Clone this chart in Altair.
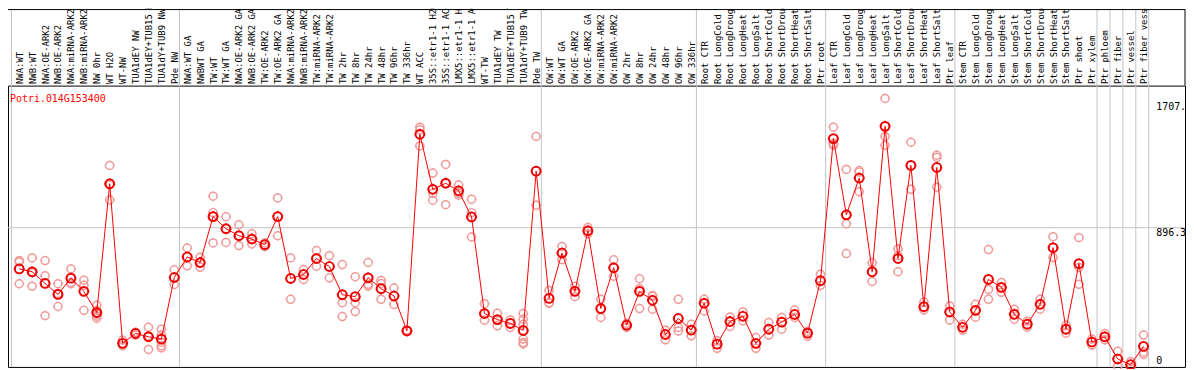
import json
import altair as alt
import pandas as pd

gene = "Potri.014G153400"

categories = [
    "NWA:WT", "NWB:WT", "NWA:OE-ARK2", "NWB:OE-ARK2", "NWA:miRNA-ARK2", "NWB:miRNA-ARK2",
    "NW 0hr", "WT H2O", "WT-NW", "TUA1dEY NW", "TUA1dEY+TUB15 NW", "TUA1dY+TUB9 NW", "Pde NW",
    "NWA:WT GA", "NWBWT GA", "TW:WT", "TW:WT GA", "NWA:OE-ARK2 GA", "NWB:OE-ARK2 GA",
    "TW:OE-ARK2", "TW:OE-ARK2 GA", "NWA:miRNA-ARK2", "NWB:miRNA-ARK2", "TW:miRNA-ARK2",
    "TW:miRNA-ARK2", "TW 2hr", "TW 8hr", "TW 24hr", "TW 48hr", "TW 96hr", "TW 336hr",
    "WT ACC", "35S::etr1-1 H2O", "35S::etr1-1 ACC", "LMX5::etr1-1 H2O", "LMX5::etr1-1 ACC",
    "WT-TW", "TUA1dEY TW", "TUA1dEY+TUB15 TW", "TUA1dY+TUB9 TW", "Pde TW",
    "OW:WT", "OW:WT GA", "OW:OE-ARK2", "OW:OE-ARK2 GA", "OW:miRNA-ARK2", "OW:miRNA-ARK2",
    "OW 2hr", "OW 8hr", "OW 24hr", "OW 48hr", "OW 96hr", "OW 336hr",
    "Root CTR", "Root LongCold", "Root LongDrought", "Root LongHeat", "Root LongSalt",
    "Root ShortCold", "Root ShortDrought", "Root ShortHeat", "Root ShortSalt", "Ptr root",
    "Leaf CTR", "Leaf LongCold", "Leaf LongDrought", "Leaf LongHeat", "Leaf LongSalt",
    "Leaf ShortCold", "Leaf ShortDrought", "Leaf ShortHeat", "Leaf ShortSalt", "Ptr leaf",
    "Stem CTR", "Stem LongCold", "Stem LongDrought", "Stem LongHeat", "Stem LongSalt",
    "Stem ShortCold", "Stem ShortDrought", "Stem ShortHeat", "Stem ShortSalt", "Ptr shoot",
    "Ptr xylem", "Ptr phloem", "Ptr fiber", "Ptr vessel", "Ptr fiber vessel",
]

means = [
    638, 620, 547, 478, 580, 497, 364, 1172, 171, 233, 212, 198, 584,
    713, 678, 966, 890, 846, 825, 790, 966, 578, 603, 703, 653, 476, 464, 582, 514, 468, 249,
    1482, 1137, 1175, 1128, 964, 358, 320, 296, 252, 1251,
    453, 738, 497, 877, 389, 645, 285, 497, 441, 227, 327, 254,
    422, 166, 308, 341, 171, 260, 304, 352, 235, 564,
    1455, 977, 1208, 620, 1532, 703, 1287, 401, 1274, 368,
    272, 378, 572, 522, 353, 291, 416, 771, 260, 671, 179,
    212, 73, 37, 152,
]

replicates = [
    [690, 682, 545], [707, 614, 530], [690, 595, 345], [545, 484, 402], [638, 553, 545],
    [567, 536, 378], [410, 378, 354, 341, 329], [1287, 1164, 1070], [191, 156], [241, 223],
    [272, 218, 133], [260, 223, 177, 156, 143], [632, 540],
    [769, 657], [711, 648], [1094, 991, 801], [965, 890, 804], [915, 846, 784], [859, 794],
    [801, 777], [1083, 846], [707, 447], [634, 572], [753, 655], [721, 582], [665, 426, 339],
    [589, 426, 370], [678, 541, 530], [566, 547, 447], [518, 414], [254, 248],
    [1527, 1511, 1409], [1239, 1112, 1069], [1293, 1178, 1041], [1164, 1112, 1100],
    [1075, 991, 838], [420, 316], [360, 281], [318, 271], [358, 322, 291, 198, 177, 167],
    [1469, 1037],
    [503, 426, 422], [779, 696], [530, 464], [898, 859], [447, 333], [695, 592], [296, 271],
    [576, 514, 389], [472, 466, 385], [254, 193], [447, 271, 249], [291, 218],
    [447, 374], [187, 140], [337, 277], [368, 312], [208, 140], [302, 223], [333, 260],
    [380, 333], [246, 215], [605, 534],
    [1527, 1424, 1413], [1262, 921, 734], [1255, 1245, 1122], [676, 559], [1707, 1469, 1413],
    [763, 721, 620], [1432, 1137], [430, 380], [1351, 1337, 1150], [405, 318],
    [291, 254], [416, 335], [759, 509, 447], [553, 522, 491], [385, 322], [310, 272],
    [447, 385], [840, 771, 709], [285, 235], [834, 647, 541], [198, 160],
    [233, 193], [121, 27], [56, 21], [223, 115, 102],
]

group_sizes = [13, 28, 12, 10, 10, 11, 1, 1, 1, 1]

y_tick_values = [0, 896.3, 1707]
y_tick_labels = ["0", "896.3", "1707."]
mid_line = [896.3]

# ---------------- tables ----------------
idx = list(range(1, len(categories) + 1))
mean_df = pd.DataFrame({"i": idx, "label": categories, "v": means})
rep_df = pd.DataFrame(
    [{"i": i, "v": v} for i, vals in zip(idx, replicates) for v in vals]
)
bounds = [0.4]
c = 0
for s in group_sizes:
    c += s
    bounds.append(c + 0.4)
bound_df = pd.DataFrame({"b": bounds})

W, H = 1184, 283
TOP = 77
FONT = "DejaVu Sans Mono"
GRID = "#c4c4c4"

xs = alt.Scale(domain=[0.1308, 91.208], nice=False, zero=False)
ys = alt.Scale(domain=[23.07, 1787.4], nice=False, zero=False)

x_axis = alt.Axis(
    orient="top", values=idx, title=None, ticks=False, domain=False, grid=False,
    labelAngle=270, labelAlign="left", labelBaseline="middle", labelPadding=2,
    labelFont=FONT, labelFontSize=9, labelColor="black", labelOverlap=False,
    labelLimit=0, labelBound=False, labelFlush=False,
    labelExpr=json.dumps(categories) + "[datum.value - 1]",
)

marker = ("M -0.8 0 A 0.8 0.8 0 1 0 0.8 0 A 0.8 0.8 0 1 0 -0.8 0 Z "
          "M 0 -0.8 L 0 -1 M 0 0.8 L 0 1 M -0.8 0 L -1 0 M 0.8 0 L 1 0")

vgrid = alt.Chart(bound_df).mark_rule(color=GRID, strokeWidth=1).encode(
    x=alt.X("b:Q", scale=xs, axis=x_axis),
    y=alt.value(-TOP), y2=alt.value(H),
)

hgrid = alt.Chart(pd.DataFrame({"v": mid_line})).mark_rule(color=GRID, strokeWidth=1).encode(
    y=alt.Y("v:Q", scale=ys, axis=None),
)

reps = alt.Chart(rep_df).mark_point(
    shape=marker, size=100, filled=False, color="#f09a9a", strokeWidth=1.5, opacity=1
).encode(
    x=alt.X("i:Q", scale=xs, axis=x_axis),
    y=alt.Y("v:Q", scale=ys, axis=None),
)

line = alt.Chart(mean_df).mark_line(color="#ff0000", strokeWidth=1).encode(
    x=alt.X("i:Q", scale=xs, axis=x_axis),
    y=alt.Y("v:Q", scale=ys, axis=None),
)

mean_pts = alt.Chart(mean_df).mark_point(
    shape=marker, size=121, filled=False, color="#ee0000", strokeWidth=2, opacity=1
).encode(
    x=alt.X("i:Q", scale=xs, axis=x_axis),
    y=alt.Y("v:Q", scale=ys, axis=None),
)

title = alt.Chart(pd.DataFrame({"t": [gene]})).mark_text(
    align="left", baseline="alphabetic", color="#ff0000", font=FONT, fontSize=10
).encode(text="t:N", x=alt.value(2), y=alt.value(16))

ylab_layers = []
for val, lab, dy in zip(y_tick_values, y_tick_labels, [-10, 5, 9]):
    ylab_layers.append(
        alt.Chart(pd.DataFrame({"v": [val], "t": [lab]})).mark_text(
            align="left", baseline="middle", color="black", font=FONT, fontSize=10, dy=dy
        ).encode(text="t:N", x=alt.value(1155), y=alt.Y("v:Q", scale=ys, axis=None))
    )

frame_top = alt.Chart(pd.DataFrame({"k": [0]})).mark_rule(color="black", strokeWidth=1).encode(
    x=alt.value(0), x2=alt.value(W), y=alt.value(-TOP + 0.5)
)
frame_right = alt.Chart(pd.DataFrame({"k": [0]})).mark_rule(color="black", strokeWidth=1).encode(
    x=alt.value(W), y=alt.value(-TOP), y2=alt.value(0)
)

chart = alt.layer(
    vgrid, hgrid, reps, line, mean_pts, title, *ylab_layers, frame_top, frame_right
).properties(
    width=W, height=H,
    padding={"left": 0, "top": TOP, "right": 1, "bottom": 1},
    autosize=alt.AutoSizeParams(type="none"),
    background="white",
).configure_view(stroke="black", strokeWidth=1)

chart.save("out.html", embed_options={"renderer": "svg", "actions": False})
